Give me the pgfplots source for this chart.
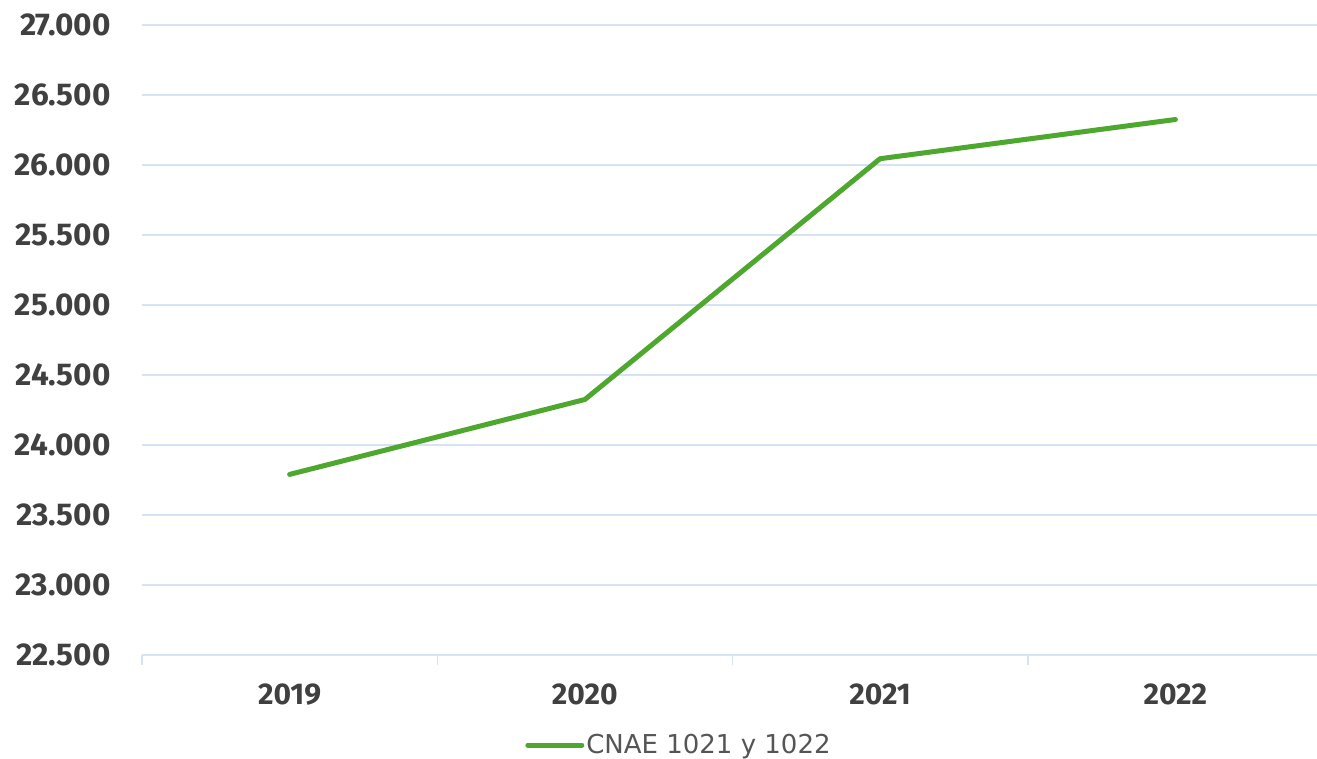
\documentclass[border=0pt]{standalone}
\usepackage{pgfplots}
\pgfplotsset{compat=1.18}
\usepackage{fontspec}
\setmainfont{Fira Sans}
\newfontfamily\legendfont{DejaVu Sans}
\definecolor{linegreen}{HTML}{4EA72E}
\definecolor{gridblue}{HTML}{D5E3F5}
\definecolor{labelgray}{HTML}{404040}
\definecolor{legendgray}{HTML}{555555}
\begin{document}
\begin{tikzpicture}
\begin{axis}[
  name=ax, scale only axis, width=1181bp, height=630bp,
  xmin=-0.5, xmax=3.5, ymin=22500, ymax=27000,
  xtick={0,1,2,3}, xticklabels={2019,2020,2021,2022},
  minor xtick={-0.5,0.5,1.5,2.5,3.5},
  ytick={22500,23000,...,27000},
  ymajorgrids, grid style={gridblue, line width=1.5bp},
  axis x line*=bottom, axis y line*=left,
  y axis line style={draw=none},
  x axis line style={gridblue, line width=1.5bp, -},
  major tick length=0pt, minor tick length=10bp, tick align=outside,
  minor tick style={gridblue, line width=1.5bp},
  scaled y ticks=false,
  yticklabel style={font=\fontsize{31.5bp}{36bp}\selectfont\bfseries, text=labelgray, xshift=-28bp},
  xticklabel style={font=\fontsize{30bp}{35bp}\selectfont\bfseries, text=labelgray, yshift=-25bp},
  /pgf/number format/.cd, 1000 sep={.}, fixed, assume math mode=true, /pgfplots/.cd,
  legend style={at={(0.4547,-0.143)}, anchor=center, draw=none, fill=none,
    font=\fontsize{26bp}{31bp}\selectfont\legendfont, text=legendgray, nodes={inner xsep=2bp}},
  legend image code/.code={\draw[#1, line width=5bp, line cap=round] (0,0) -- (54bp,0);},
]
\addplot[linegreen, line width=5bp, line join=round, line cap=round, mark=none] coordinates {
(0, 23790)
(1, 24325)
(2, 26045)
(3, 26325)
};
\addlegendentry{CNAE 1021 y 1022}
\end{axis}
\pgfresetboundingbox
\path ([xshift=-142bp,yshift=-104bp]ax.south west) rectangle ([xshift=-6bp,yshift=25bp]ax.north east);
\end{tikzpicture}
\end{document}
